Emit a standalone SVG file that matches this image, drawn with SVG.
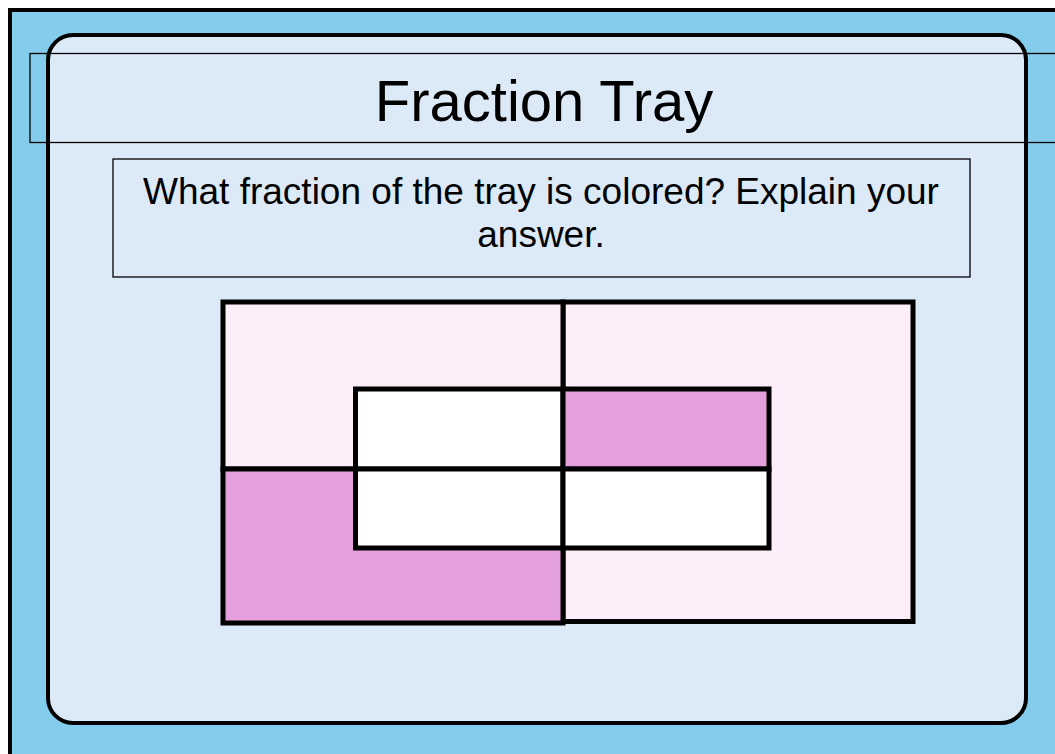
<svg xmlns="http://www.w3.org/2000/svg" width="1055" height="754" viewBox="0 0 1055 754">
<style>
.txt{font-family:"Liberation Sans",Arial,sans-serif;fill:#000}
.cell{stroke:#000;stroke-width:5}
.lp{fill:#FCEFF9}
.pk{fill:#E4A0DC}
.wh{fill:#FFFFFF}
</style>
<rect x="0" y="0" width="1055" height="754" fill="#FFFFFF"/>
<g id="background">
<rect x="10" y="10" width="1060" height="760" fill="#83CCEB" stroke="#000" stroke-width="4"/>
</g>
<g id="panel">
<rect x="48" y="35" width="978" height="688" rx="25" ry="25" fill="#DCE9F6" stroke="#000" stroke-width="4"/>
</g>
<g id="title">
<rect x="30" y="53.5" width="1040" height="89" fill="none" stroke="#000" stroke-width="1.3"/>
<text class="txt" x="544" y="121" font-size="58" text-anchor="middle">Fraction Tray</text>
</g>
<g id="question">
<rect x="113" y="159" width="857" height="118" fill="#DCE9F6" stroke="#000" stroke-width="1.3"/>
<text class="txt" x="541" y="204" font-size="37" text-anchor="middle">What fraction of the tray is colored? Explain your</text>
<text class="txt" x="541" y="247" font-size="37" text-anchor="middle">answer.</text>
</g>
<g id="tray">
<rect class="cell lp" x="563" y="302" width="350" height="319.5"/>
<rect class="cell lp" x="223" y="302" width="340" height="167"/>
<rect class="cell pk" x="223" y="469" width="340" height="154"/>
<rect class="cell wh" x="355.5" y="389" width="207.5" height="80"/>
<rect class="cell pk" x="563" y="389" width="206" height="80"/>
<rect class="cell wh" x="355.5" y="469" width="207.5" height="79"/>
<rect class="cell wh" x="563" y="469" width="206" height="79"/>
</g>
</svg>
